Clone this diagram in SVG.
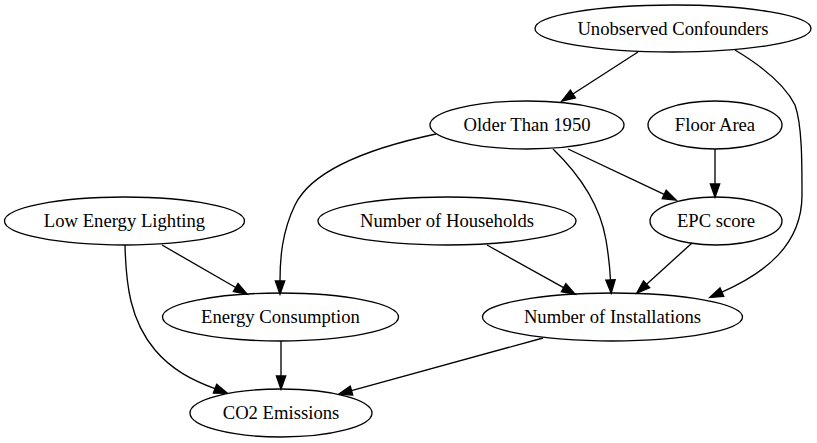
<svg xmlns="http://www.w3.org/2000/svg" width="817" height="443" viewBox="0 0 817 443">
<style>
.n ellipse{fill:none;stroke:#000;stroke-width:1.33}
.n text{font-family:"Liberation Serif","Times New Roman",serif;font-size:18.67px;text-anchor:middle;fill:#000}
.e path{fill:none;stroke:#000;stroke-width:1.33;marker-end:url(#ah)}
</style>
<defs>
<marker id="ah" markerUnits="userSpaceOnUse" markerWidth="16" markerHeight="12" refX="0" refY="4.67" orient="auto" viewBox="-1 -1 16 12" overflow="visible">
<path d="M0,0 L13.3,4.67 L0,9.33 Z" fill="#000" stroke="#000" stroke-width="1.33"/>
</marker>
</defs>
<rect width="817" height="443" fill="#fff"/>
<g id="edges" class="e">
<path d="M638,52 L572.9,94"/>
<path d="M735,50 C765,68 785,85 795,105 C802,125 802,160 802,195 C802,245 765,273 721.9,292.1"/>
<path d="M436,134 C370,148 312,170 295,205 C282,232 280,258 280,281"/>
<path d="M568,149 L664.2,194.4"/>
<path d="M553,149 C580,175 600,205 606,240 C609,258 610,270 610.5,280"/>
<path d="M715,149 L715,184"/>
<path d="M162,245 L235.7,287.5"/>
<path d="M125,245 C126,285 130,320 155,350 C172,370 192,380 215,388.7"/>
<path d="M281,341 L281,376"/>
<path d="M487,245 L563.6,287.7"/>
<path d="M692,243 L646.6,284.3"/>
<path d="M543,338 L351.5,390.6"/>
</g>
<g id="unobserved_confounders" class="n"><ellipse cx="673" cy="28.5" rx="138" ry="23.5"/><text x="673" y="34.5">Unobserved Confounders</text></g>
<g id="older_than_1950" class="n"><ellipse cx="527" cy="125" rx="97" ry="24"/><text x="527" y="131">Older Than 1950</text></g>
<g id="floor_area" class="n"><ellipse cx="715" cy="125" rx="67" ry="24"/><text x="715" y="131">Floor Area</text></g>
<g id="low_energy_lighting" class="n"><ellipse cx="124.5" cy="221" rx="120" ry="24"/><text x="124.5" y="227">Low Energy Lighting</text></g>
<g id="number_of_households" class="n"><ellipse cx="447" cy="221" rx="129" ry="24"/><text x="447" y="227">Number of Households</text></g>
<g id="epc_score" class="n"><ellipse cx="716" cy="221" rx="66" ry="24"/><text x="716" y="227">EPC score</text></g>
<g id="energy_consumption" class="n"><ellipse cx="280.5" cy="317" rx="118" ry="24"/><text x="280.5" y="323">Energy Consumption</text></g>
<g id="number_of_installations" class="n"><ellipse cx="612.5" cy="317" rx="130" ry="24"/><text x="612.5" y="323">Number of Installations</text></g>
<g id="co2_emissions" class="n"><ellipse cx="281" cy="413" rx="91" ry="24"/><text x="281" y="419">CO2 Emissions</text></g>
</svg>
